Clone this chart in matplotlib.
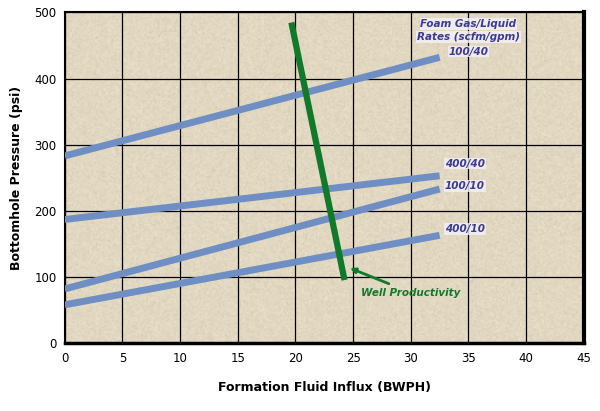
import matplotlib.pyplot as plt
import numpy as np

x_end = [0, 32.5]
p_100_40 = [283, 432]
p_400_40 = [187, 253]
p_100_10 = [82, 233]
p_400_10 = [58, 163]
well_x = [19.7, 24.2]
well_y = [480, 100]

fig = plt.figure(figsize=(6, 4.11), dpi=100)
ax = fig.add_axes([0.108, 0.165, 0.865, 0.805])
ax.set_facecolor('#ebe0c6')

# speckled texture
rng = np.random.default_rng(1)
tex = rng.normal(0, 1, (200, 300))
ax.imshow(tex, extent=[0, 45, 0, 500], aspect='auto', cmap='Greys', alpha=0.12, zorder=0)

ax.set_xlim(0, 45)
ax.set_ylim(0, 500)
ax.set_xticks(range(0, 46, 5))
ax.set_yticks(range(0, 501, 100))
ax.grid(True, color='black', lw=0.9, zorder=1)
for s in ax.spines.values():
    s.set_linewidth(1.5)
ax.spines['right'].set_linewidth(3)
ax.spines['bottom'].set_linewidth(2.5)

for ys in [p_100_40, p_400_40, p_100_10, p_400_10]:
    ax.plot(x_end, ys, color='#6f8fc4', lw=5, solid_capstyle='butt', zorder=3)
ax.plot(well_x, well_y, color='#117a2a', lw=4.5, zorder=4)

lab = dict(color='#3b3b8f', fontsize=7.5, fontstyle='italic', fontweight='bold', zorder=5,
           bbox=dict(fc='#f4f0f8', ec='none', pad=0.5, alpha=0.8))
ax.text(35, 478, 'Foam Gas/Liquid', ha='center', **lab)
ax.text(35, 458, 'Rates (scfm/gpm)', ha='center', **lab)
ax.text(35, 436, '100/40', ha='center', **lab)
ax.text(34.7, 267, '400/40', ha='center', **lab)
ax.text(34.7, 233, '100/10', ha='center', **lab)
ax.text(34.7, 168, '400/10', ha='center', **lab)
ax.annotate('Well Productivity', xy=(24.5, 115), xytext=(30, 72), ha='center',
            color='#117a2a', fontsize=7.5, fontstyle='italic', fontweight='bold', zorder=5,
            arrowprops=dict(arrowstyle='-|>', color='#117a2a', lw=2))

ax.tick_params(labelsize=8.5, length=0, pad=6)
ax.set_xlabel('Formation Fluid Influx (BWPH)', fontsize=9, fontweight='bold', labelpad=12)
ax.set_ylabel('Bottomhole Pressure (psi)', fontsize=9, fontweight='bold', labelpad=8)
fig.savefig('out.png', dpi=100)
